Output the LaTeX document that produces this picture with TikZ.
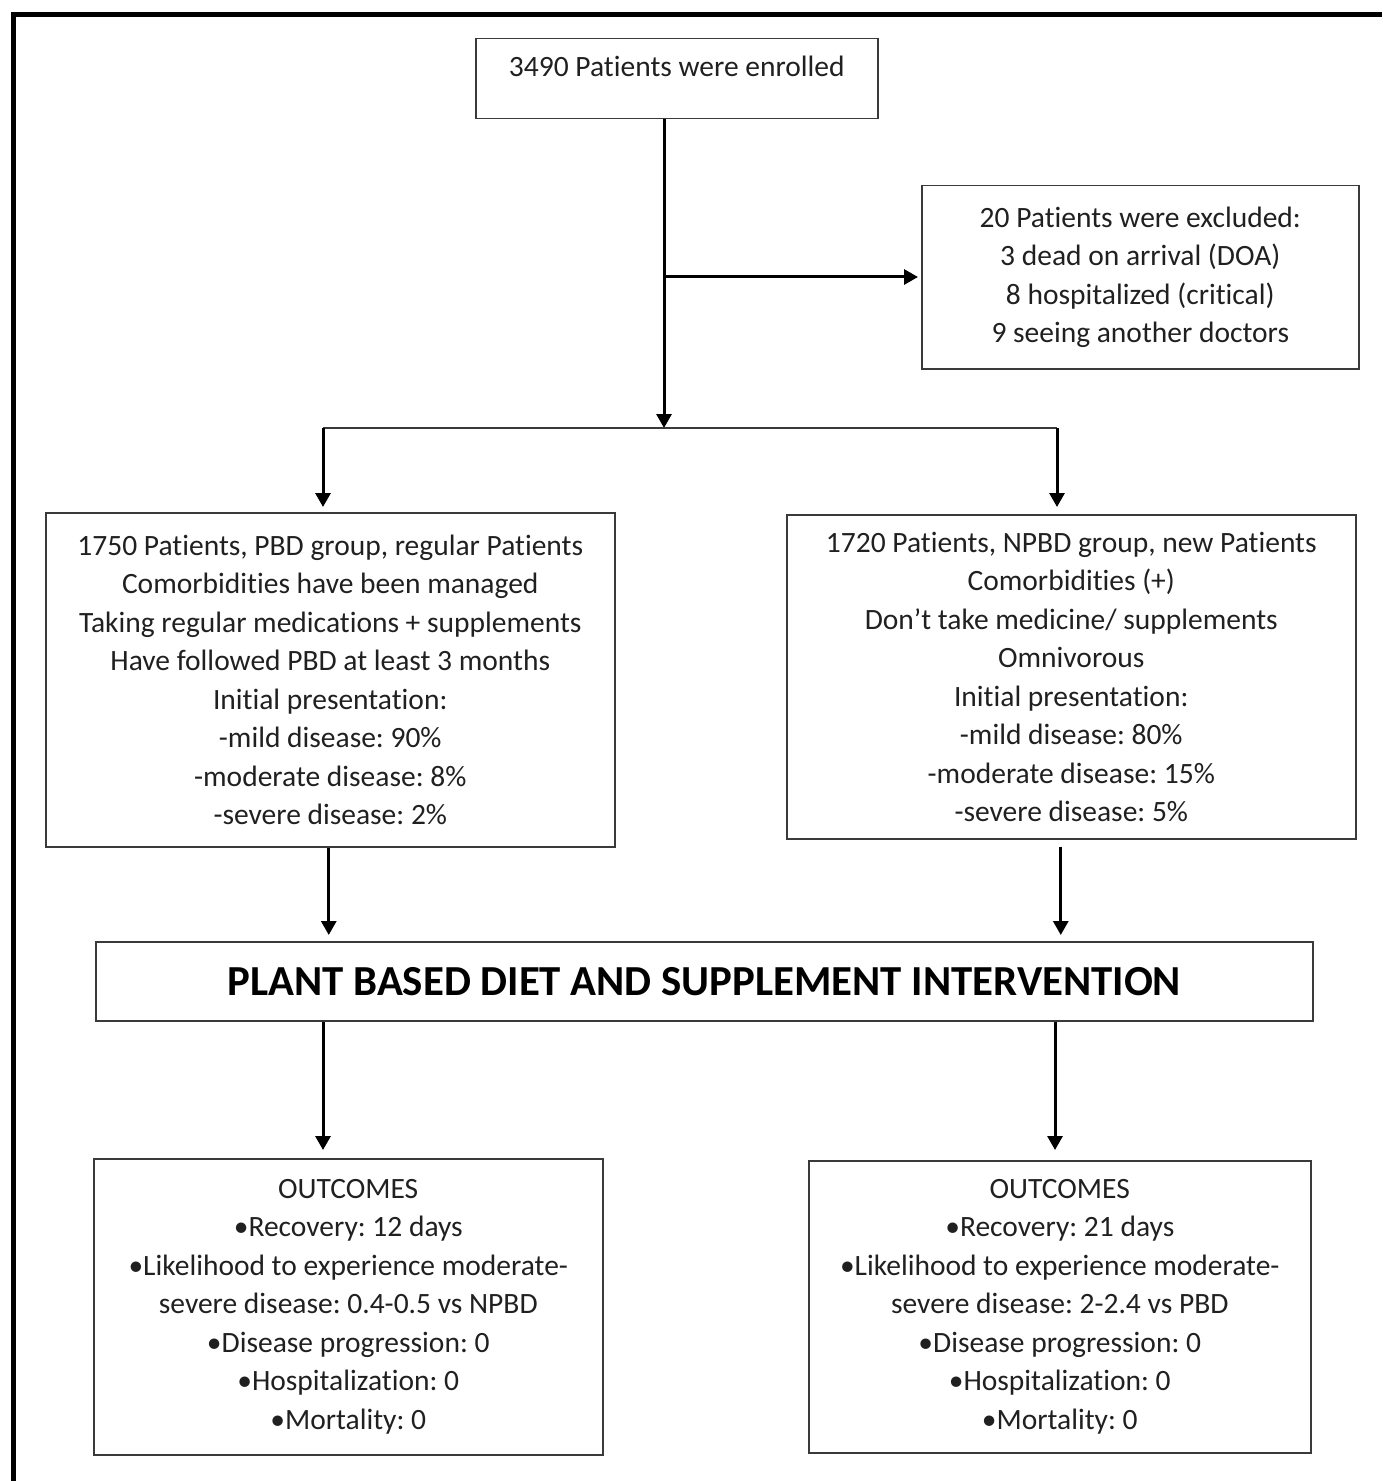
\documentclass[tikz,border=0pt]{standalone}
\usepackage{fontspec}
\setmainfont[Ligatures=NoCommon]{Carlito}
\usetikzlibrary{arrows.meta}

\definecolor{boxgray}{HTML}{3A3A3A}
\definecolor{textgray}{HTML}{202020}
\newcommand\boxfont{\frenchspacing\fontsize{14.75}{19.25}\selectfont}
\newcommand\headfont{\fontsize{21.4}{24}\selectfont\bfseries}

\tikzset{
    box/.style={draw=boxgray, line width=0.75pt, text=textgray, align=center,
                inner sep=0pt, anchor=north west, font=\boxfont},
    arr/.style={draw=black, line width=1.5pt, -{Triangle[length=7pt,width=7.5pt]}},
    split/.style={draw=boxgray, line width=0.75pt}
}

\begin{document}
\begin{tikzpicture}[x=0.5pt, y=-0.5pt]
        \useasboundingbox (0,0) rectangle (1382,1481);
        \draw[line width=2.5pt] (13.5,1481) -- (13.5,15) -- (1382,15);

        \node (enrol) [box, minimum width=201pt, minimum height=40pt, text depth=12pt] at (475,38)
            {3490 Patients were enrolled};
        \node (excl) [box, minimum width=218.5pt, minimum height=91.5pt] at (921,185)
            {20 Patients were excluded:\\ 3 dead on arrival (DOA)\\ 8 hospitalized (critical)\\ 9 seeing another doctors};
        \node (pbd) [box, minimum width=284.5pt, minimum height=167pt] at (45,512)
            {1750 Patients, PBD group, regular Patients\\ Comorbidities have been managed\\
             Taking regular medications + supplements\\ Have followed PBD at least 3 months\\
             Initial presentation:\\ -mild disease: 90\%\\ -moderate disease: 8\%\\ -severe disease: 2\%};
        \node (npbd) [box, minimum width=284.5pt, minimum height=162pt] at (786,514)
            {1720 Patients, NPBD group, new Patients\\ Comorbidities (+)\\
             Don’t take medicine/ supplements\\ Omnivorous\\
             Initial presentation:\\ -mild disease: 80\%\\ -moderate disease: 15\%\\ -severe disease: 5\%};
        \node (plan) [box, minimum width=608.5pt, minimum height=39.5pt, font=\headfont, text=black] at (95,941)
            {PLANT BASED DIET AND SUPPLEMENT INTERVENTION};
        \node (outL) [box, minimum width=254.5pt, minimum height=148pt] at (93,1158)
            {OUTCOMES\\ •Recovery: 12 days\\ •Likelihood to experience moderate-\\
             severe disease: 0.4-0.5 vs NPBD\\ •Disease progression: 0\\ •Hospitalization: 0\\ •Mortality: 0};
        \node (outR) [box, minimum width=251pt, minimum height=146pt] at (808,1160)
            {OUTCOMES\\ •Recovery: 21 days\\ •Likelihood to experience moderate-\\
             severe disease: 2-2.4 vs PBD\\ •Disease progression: 0\\ •Hospitalization: 0\\ •Mortality: 0};

        % split points
        \coordinate (fork) at (664,428);
        \coordinate (forkL) at (323,428);
        \coordinate (forkR) at (1057,428);
        \coordinate (side) at (664,277);

        \draw[arr] (enrol.south -| fork) -- (fork);
        \draw[arr, shorten >=1.5pt] (side) -- (excl.west |- side);
        \draw[split] (forkL) -- (forkR);
        \draw[arr, shorten >=3.5pt] (forkL) -- (forkL |- npbd.north);
        \draw[arr, shorten >=3.5pt] (forkR) -- (forkR |- npbd.north);

        \draw[arr, shorten >=3pt] ([xshift=-0.75pt]pbd.south) -- ([xshift=-0.75pt]pbd.south |- plan.north);
        \draw[arr, shorten <=3.5pt, shorten >=3pt] ([xshift=-5.25pt]npbd.south) -- ([xshift=-5.25pt]npbd.south |- plan.north);

        \draw[arr, shorten >=4pt] (plan.south -| 323,0) -- (outL.north -| 323,0);
        \draw[arr, shorten >=5pt] (plan.south -| 1055,0) -- (outR.north -| 1055,0);
    \end{tikzpicture}
\end{document}
